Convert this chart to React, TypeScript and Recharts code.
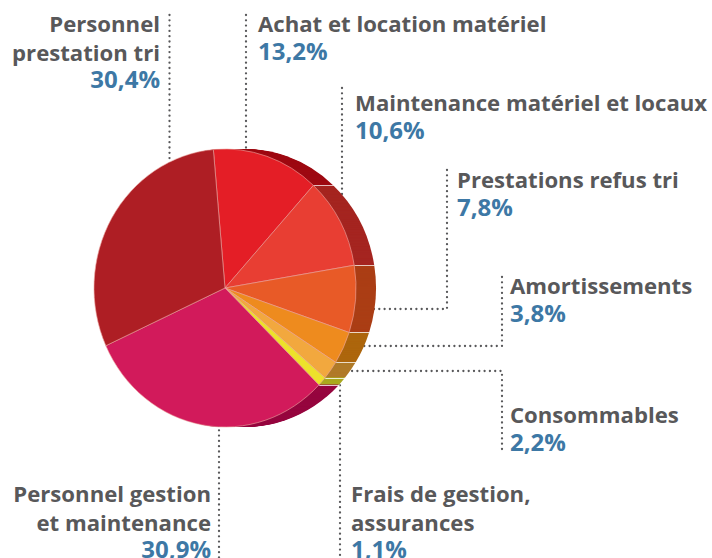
import { Pie, PieChart, Sector } from "recharts";

// clockwise from the Achat slice
const categories = [
  "Achat et location matériel",
  "Maintenance matériel et locaux",
  "Prestations refus tri",
  "Amortissements",
  "Consommables",
  "Frais de gestion, assurances",
  "Personnel gestion et maintenance",
  "Personnel prestation tri",
];
const shares = [13.2, 10.6, 7.8, 3.8, 2.2, 1.1, 30.9, 30.4];
const faceColors = ["#e41e26", "#e83e33", "#e85a27", "#ee8b1e", "#f2a83e", "#ede12b", "#d21a5b", "#ae1e24"];
const sideColors = ["#9e0a12", "#a52520", "#ab3e15", "#ad660d", "#b07a28", "#aaa91f", "#96063f", "#7c1015"];

const labelLines = [
  ["Achat et location matériel"],
  ["Maintenance matériel et locaux"],
  ["Prestations refus tri"],
  ["Amortissements"],
  ["Consommables"],
  ["Frais de gestion,", "assurances"],
  ["Personnel gestion", "et maintenance"],
  ["Personnel", "prestation tri"],
];
const labelAnchors = [
  { x: 258, y: 32, anchor: "start" },
  { x: 355, y: 111, anchor: "start" },
  { x: 457, y: 188, anchor: "start" },
  { x: 510, y: 294, anchor: "start" },
  { x: 510, y: 423, anchor: "start" },
  { x: 351, y: 502, anchor: "start" },
  { x: 211, y: 502, anchor: "end" },
  { x: 160, y: 32, anchor: "end" },
];

const leaders = [
  "M169.5 15V165",
  "M246 15V155",
  "M342 88V195",
  "M447 170V309H370",
  "M502 277V346H360",
  "M502 449V371H345",
  "M340 380V558",
  "M219 425V558",
];

const CX = 225;
const CY = 288;
const RADIUS = 131;
const STRETCH = 139 / 131;
const DEPTH = 20;
const START = 95.1;

const faceRows = categories.map((name, i) => ({ name, value: shares[i], fill: faceColors[i] }));
const sideRows = categories.map((name, i) => ({ name, value: shares[i], fill: sideColors[i] }));
const offsets = Array.from({ length: DEPTH }, (_, i) => DEPTH - i);

// the pie is a bit taller than wide in the original
function TallSector(props: any) {
  return (
    <g transform={`translate(0 ${CY}) scale(1 ${STRETCH}) translate(0 ${-CY})`}>
      <Sector {...props} />
    </g>
  );
}

// one layer of the extruded side, with a light pixel where the slice starts:
// stacked up the pixels make the horizontal seams on the rim
function SideSector(props: any) {
  const a = (props.startAngle * Math.PI) / 180;
  const x = props.cx + props.outerRadius * Math.cos(a);
  const y = Math.round(CY - props.outerRadius * Math.sin(a) * STRETCH);
  return (
    <g>
      <TallSector {...props} />
      <rect x={x - 1} y={y} width={2} height={1} fill="#fff" fillOpacity={0.55} />
    </g>
  );
}

export default function App() {
  return (
    <div style={{ position: "absolute", left: 0, top: 0, width: 712, height: 558, overflow: "hidden" }}>
      <PieChart width={712} height={558} margin={{ top: 0, right: 0, bottom: 0, left: 0 }}>
        <g fill="none" stroke="#58585a" strokeWidth={2.3} strokeLinecap="round" strokeDasharray="0 5.3">
          {leaders.map((d) => (
            <path key={d} d={d} />
          ))}
        </g>
        {offsets.map((off) => (
          <Pie
            key={off}
            data={sideRows}
            dataKey="value"
            cx={CX + off}
            cy={CY}
            outerRadius={RADIUS}
            startAngle={START}
            endAngle={START - 360}
            stroke="none"
            shape={SideSector}
            isAnimationActive={false}
          />
        ))}
        <Pie
          data={faceRows}
          dataKey="value"
          cx={CX}
          cy={CY}
          outerRadius={RADIUS}
          startAngle={START}
          endAngle={START - 360}
          stroke="#eda5a0"
          strokeWidth={0.6}
          shape={TallSector}
          isAnimationActive={false}
        />
        <g fontFamily="'Open Sans', sans-serif" fontWeight={700} fontSize={22.15}>
          {categories.map((name, i) => {
            const pos = labelAnchors[i];
            const lines = labelLines[i];
            return (
              <text key={name} x={pos.x} y={pos.y} textAnchor={pos.anchor as any} fill="#58585a">
                {lines.map((line, j) => (
                  <tspan key={line} x={pos.x} dy={j === 0 ? 0 : 28.5}>
                    {line}
                  </tspan>
                ))}
                <tspan x={pos.x} dy={27.5} fill="#3d78a5" fontSize={24}>
                  {shares[i].toFixed(1).replace(".", ",")}%
                </tspan>
              </text>
            );
          })}
        </g>
      </PieChart>
    </div>
  );
}
